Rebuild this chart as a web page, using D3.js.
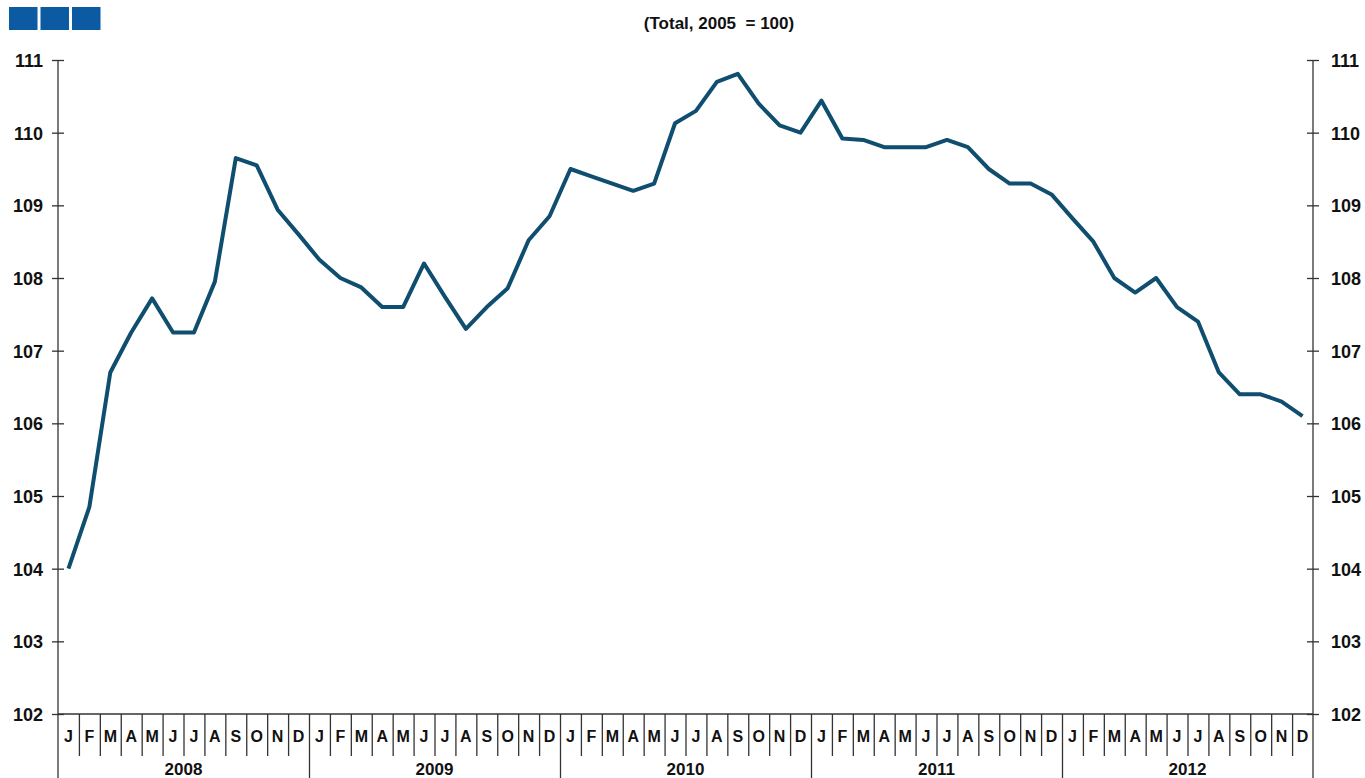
<!DOCTYPE html>
<html>
<head>
<meta charset="utf-8">
<script src="https://cdn.jsdelivr.net/npm/d3@7"></script>
<style>
  body { margin: 0; background: #fff; }
  text { font-family: "Liberation Sans", Arial, sans-serif; font-weight: bold; fill: #111; }
</style>
</head>
<body>
<script>
// monthly index, Total, 2005 = 100
const years = ['2008', '2009', '2010', '2011', '2012'];
const monthLabels = ['J', 'F', 'M', 'A', 'M', 'J', 'J', 'A', 'S', 'O', 'N', 'D'];
const values2008 = [104.0, 104.85, 106.7, 107.25, 107.72, 107.25, 107.25, 107.95, 109.65, 109.55, 108.94, 108.6];
const values2009 = [108.25, 108.0, 107.87, 107.6, 107.6, 108.2, 107.74, 107.3, 107.6, 107.86, 108.52, 108.85];
const values2010 = [109.5, 109.4, 109.3, 109.2, 109.3, 110.13, 110.3, 110.7, 110.81, 110.4, 110.1, 110.0];
const values2011 = [110.44, 109.92, 109.9, 109.8, 109.8, 109.8, 109.9, 109.8, 109.5, 109.3, 109.3, 109.15];
const values2012 = [108.82, 108.5, 108.0, 107.8, 108.0, 107.6, 107.4, 106.7, 106.4, 106.4, 106.3, 106.1];
const yTicks = [102, 103, 104, 105, 106, 107, 108, 109, 110, 111];
const title = '(Total, 2005  = 100)';

const values = [].concat(values2008, values2009, values2010, values2011, values2012);

const width = 1365, height = 778;
const plot = { left: 58, right: 1313, top: 60, bottom: 714 };

const svg = d3.select('body').append('svg')
    .attr('width', width)
    .attr('height', height);

const x = d3.scaleLinear().domain([0, values.length]).range([plot.left, plot.right]);
const y = d3.scaleLinear().domain([102, 111]).range([plot.bottom, plot.top]);

// logo squares
svg.selectAll('rect.logo').data([0, 1, 2]).enter()
    .append('rect')
    .attr('x', d => 9 + d * 31.5)
    .attr('y', 7)
    .attr('width', 28.5)
    .attr('height', 23)
    .attr('fill', '#0b5aa2');

svg.append('text')
    .attr('x', 719)
    .attr('y', 29)
    .attr('text-anchor', 'middle')
    .style('font-size', '17px')
    .style('white-space', 'pre')
    .text(title);

const axisColor = '#333';

// y axes, ticks cross the axis line
const yLeft = svg.append('g')
    .attr('transform', `translate(${plot.left},0)`)
    .call(d3.axisLeft(y).tickValues(yTicks).tickSize(6).tickPadding(9));
const yRight = svg.append('g')
    .attr('transform', `translate(${plot.right},0)`)
    .call(d3.axisRight(y).tickValues(yTicks).tickSize(6).tickPadding(12));

[yLeft, yRight].forEach(g => {
    g.select('.domain').remove();
    g.attr('font-family', null).attr('font-size', null);
    g.selectAll('.tick line').attr('x1', -6).attr('x2', 6).attr('stroke', axisColor).attr('stroke-width', 1.3);
    g.selectAll('.tick text').style('font-size', '18px').attr('dy', '0.36em');
});

// vertical axis lines run to the bottom edge
[plot.left, plot.right].forEach(px => svg.append('line')
    .attr('x1', px).attr('x2', px)
    .attr('y1', plot.top).attr('y2', height)
    .attr('stroke', axisColor).attr('stroke-width', 1.3));

// month boundaries and year boundaries
const monthBounds = d3.range(1, values.length);
const xAxisMonths = svg.append('g')
    .attr('transform', `translate(0,${plot.bottom})`)
    .call(d3.axisBottom(x).tickValues(monthBounds.filter(d => d % 12)).tickSize(42).tickFormat(''));
const xAxisYears = svg.append('g')
    .attr('transform', `translate(0,${plot.bottom})`)
    .call(d3.axisBottom(x).tickValues(monthBounds.filter(d => d % 12 === 0)).tickSize(height - plot.bottom).tickFormat(''));
[xAxisMonths, xAxisYears].forEach(g => {
    g.select('.domain').remove();
    g.selectAll('.tick line').attr('stroke', axisColor).attr('stroke-width', 1.3);
});
svg.append('line')
    .attr('x1', plot.left).attr('x2', plot.right)
    .attr('y1', plot.bottom).attr('y2', plot.bottom)
    .attr('stroke', axisColor).attr('stroke-width', 1.3);

svg.selectAll('text.month').data(values).enter()
    .append('text')
    .attr('x', (d, i) => x(i + 0.5))
    .attr('y', 742)
    .attr('text-anchor', 'middle')
    .style('font-size', '16px')
    .text((d, i) => monthLabels[i % 12]);

svg.selectAll('text.year').data(years).enter()
    .append('text')
    .attr('x', (d, i) => x(i * 12 + 6))
    .attr('y', 775)
    .attr('text-anchor', 'middle')
    .style('font-size', '17px')
    .text(d => d);

const line = d3.line()
    .x((d, i) => x(i + 0.5))
    .y(d => y(d));

svg.append('path')
    .datum(values)
    .attr('d', line)
    .attr('fill', 'none')
    .attr('stroke', '#0f4e6e')
    .attr('stroke-width', 4)
    .attr('stroke-linejoin', 'round');
</script>
</body>
</html>
